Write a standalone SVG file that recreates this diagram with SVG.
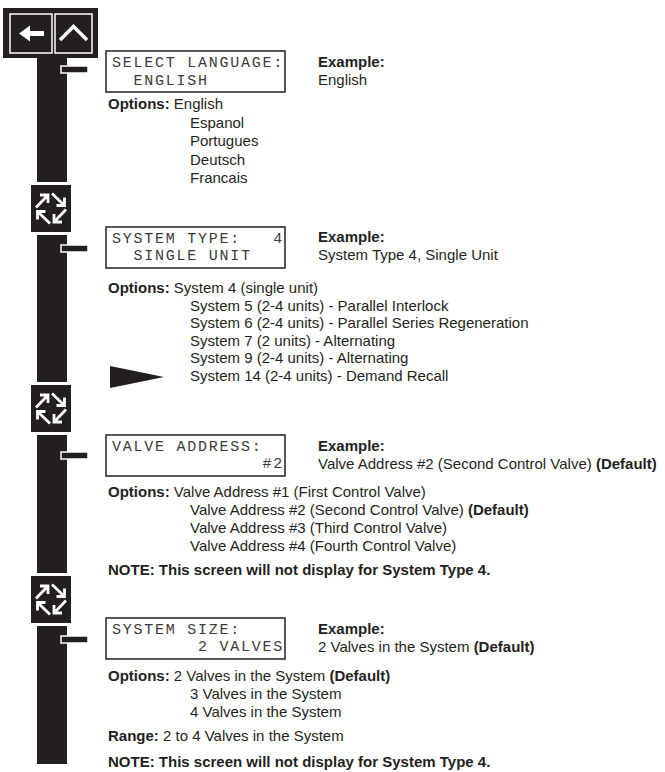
<svg xmlns="http://www.w3.org/2000/svg" xmlns:xlink="http://www.w3.org/1999/xlink" width="665" height="772" viewBox="0 0 665 772">
<style>
.ink{fill:#231f20}
.t{font-family:"Liberation Sans",Arial,sans-serif;font-size:15px;fill:#231f20}
.b{font-weight:bold}
.lcd{font-family:"Liberation Mono","DejaVu Sans Mono",monospace;font-size:15px;letter-spacing:1.75px;fill:#3a3a3a}
.box{fill:#fff;stroke:#231f20;stroke-width:1.5}
.tab{fill:#231f20;stroke:#fff;stroke-width:1.5}
.cyc{fill:none;stroke:#fff;stroke-width:2.8}
</style>
<defs>
<g id="cycArrows">
<path class="cyc" d="M-15,-1 L-3,-13.5 M-11,-13.5 H-3 V-5.5"/>
<path class="cyc" d="M-15,-1 L-3,-13.5 M-11,-13.5 H-3 V-5.5" transform="rotate(90)"/>
<path class="cyc" d="M-15,-1 L-3,-13.5 M-11,-13.5 H-3 V-5.5" transform="rotate(180)"/>
<path class="cyc" d="M-15,-1 L-3,-13.5 M-11,-13.5 H-3 V-5.5" transform="rotate(270)"/>
</g>
</defs>
<rect width="665" height="772" fill="#fff"/>

<g id="connectors">
<rect class="ink" x="37" y="57" width="30" height="125"/>
<rect class="ink" x="37" y="235" width="30" height="147"/>
<rect class="ink" x="37" y="435" width="30" height="138"/>
<rect class="ink" x="37" y="626" width="30" height="138"/>
<rect class="tab" x="61" y="66" width="27" height="7"/>
<rect class="tab" x="61" y="245" width="27" height="7"/>
<rect class="tab" x="61" y="452" width="27" height="7"/>
<rect class="tab" x="61" y="636" width="27" height="7"/>
<polygon class="ink" points="110,366 164,377 110,388"/>
</g>

<g id="nav-buttons">
<rect class="ink" x="3" y="8" width="95" height="50"/>
<rect x="10" y="14" width="42" height="39" fill="#231f20" stroke="#fff" stroke-width="1.5"/>
<rect x="55" y="14" width="37" height="39" fill="#231f20" stroke="#fff" stroke-width="1.5"/>
<polygon fill="#fff" points="19,33.5 30,25.5 30,31 44,31 44,36 30,36 30,41.5"/>
<polyline points="60,40 73.5,26.5 87,40" fill="none" stroke="#fff" stroke-width="3.5"/>
</g>

<g id="next-1">
<rect class="ink" x="31" y="185" width="40" height="47"/>
<use xlink:href="#cycArrows" transform="translate(51,208.5)"/>
</g>
<g id="next-2">
<rect class="ink" x="31" y="385" width="40" height="47"/>
<use xlink:href="#cycArrows" transform="translate(51,408.5)"/>
</g>
<g id="next-3">
<rect class="ink" x="31" y="576" width="40" height="47"/>
<use xlink:href="#cycArrows" transform="translate(51,599.5)"/>
</g>

<g id="screen-language">
<rect class="box" x="106" y="51" width="179" height="41"/>
<text class="lcd" x="112" y="67">SELECT LANGUAGE:</text>
<text class="lcd" x="133.5" y="85">ENGLISH</text>
<text class="t b" x="318" y="67">Example:</text>
<text class="t" x="318" y="85">English</text>
<text class="t" x="108" y="109"><tspan class="b">Options:</tspan> English</text>
<text class="t" x="190" y="127.5">Espanol</text>
<text class="t" x="190" y="146">Portugues</text>
<text class="t" x="190" y="164.5">Deutsch</text>
<text class="t" x="190" y="183">Francais</text>
</g>

<g id="screen-system-type">
<rect class="box" x="106" y="227" width="179" height="41"/>
<text class="lcd" x="112" y="243">SYSTEM TYPE:</text>
<text class="lcd" x="273.25" y="243">4</text>
<text class="lcd" x="133.5" y="260">SINGLE UNIT</text>
<text class="t b" x="318" y="242">Example:</text>
<text class="t" x="318" y="260">System Type 4, Single Unit</text>
<text class="t" x="108" y="293"><tspan class="b">Options:</tspan> System 4 (single unit)</text>
<text class="t" x="190" y="311">System 5 (2-4 units) - Parallel Interlock</text>
<text class="t" x="190" y="328">System 6 (2-4 units) - Parallel Series Regeneration</text>
<text class="t" x="190" y="346">System 7 (2 units) - Alternating</text>
<text class="t" x="190" y="363">System 9 (2-4 units) - Alternating</text>
<text class="t" x="190" y="381">System 14 (2-4 units) - Demand Recall</text>
</g>

<g id="screen-valve-address">
<rect class="box" x="106" y="435" width="179" height="41"/>
<text class="lcd" x="112" y="451">VALVE ADDRESS:</text>
<text class="lcd" x="262.5" y="468">#2</text>
<text class="t b" x="318" y="451">Example:</text>
<text class="t" x="318" y="469">Valve Address #2 (Second Control Valve) <tspan class="b">(Default)</tspan></text>
<text class="t" x="108" y="497"><tspan class="b">Options:</tspan> Valve Address #1 (First Control Valve)</text>
<text class="t" x="190" y="515">Valve Address #2 (Second Control Valve) <tspan class="b">(Default)</tspan></text>
<text class="t" x="190" y="533">Valve Address #3 (Third Control Valve)</text>
<text class="t" x="190" y="551">Valve Address #4 (Fourth Control Valve)</text>
<text class="t b" x="108" y="575">NOTE: This screen will not display for System Type 4.</text>
</g>

<g id="screen-system-size">
<rect class="box" x="106" y="618" width="179" height="41"/>
<text class="lcd" x="112" y="634">SYSTEM SIZE:</text>
<text class="lcd" x="198" y="651">2 VALVES</text>
<text class="t b" x="318" y="634">Example:</text>
<text class="t" x="318" y="652">2 Valves in the System <tspan class="b">(Default)</tspan></text>
<text class="t" x="108" y="681"><tspan class="b">Options:</tspan> 2 Valves in the System <tspan class="b">(Default)</tspan></text>
<text class="t" x="190" y="699">3 Valves in the System</text>
<text class="t" x="190" y="717">4 Valves in the System</text>
<text class="t" x="108" y="741"><tspan class="b">Range:</tspan> 2 to 4 Valves in the System</text>
<text class="t b" x="108" y="767">NOTE: This screen will not display for System Type 4.</text>
</g>
</svg>
